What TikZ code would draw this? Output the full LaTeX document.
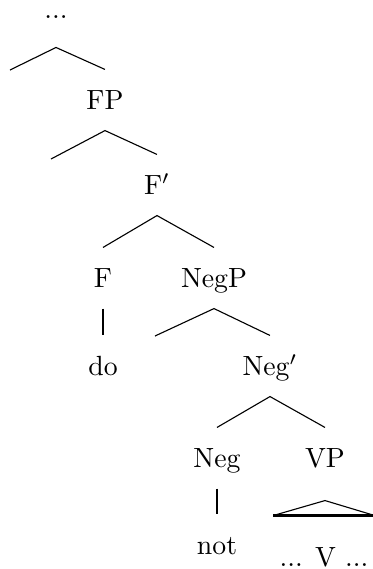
\documentclass[tikz,border=0pt]{standalone}
\usepackage{tikz}
\usetikzlibrary{calc}

\begin{document}
\begin{tikzpicture}[
    x=0.36pt, y=-0.36pt,
    cat/.style={inner sep=0pt, text height=6.8pt, text depth=0pt, minimum height=21.6pt},
    rootcat/.style={inner sep=0pt, text height=0pt, text depth=10.4pt, anchor=base},
    roof/.style={inner sep=0pt, text height=6.8pt, text depth=0pt, minimum height=29.5pt, minimum width=36pt},
    branch/.style={thin},
    unary/.style={thick}
]
    \useasboundingbox (0,0) rectangle (373,569);

    \node[rootcat] (root) at (56,18) {...};
    \node[cat] (fp) at (105,100) {FP};
    \node[cat] (fbar) at (157,185) {F$'$};
    \node[cat] (f) at (103,278) {F};
    \node[cat] (negp) at (214,278) {NegP};
    \node[cat] (do) at (103,366) {do};
    \node[cat] (negbar) at (270,366) {Neg$'$};
    \node[cat] (neg) at (217,458) {Neg};
    \node[cat] (vp) at (325,458) {VP};
    \node[cat] (not) at (217,545) {not};
    \node[roof] (vdots) at (324,557) {... V ...};

    % empty left daughters
    \coordinate (spec1) at (10,70);
    \coordinate (spec2) at (51,159);
    \coordinate (spec3) at (155,336);

    \draw[branch] (spec1) -- (root.south) -- (fp.north);
    \draw[branch] (spec2) -- (fp.south) -- (fbar.north);
    \draw[branch] (f.north) -- (fbar.south) -- (negp.north);
    \draw[branch] (spec3) -- (negp.south) -- (negbar.north);
    \draw[branch] (neg.north) -- (negbar.south) -- (vp.north);

    \draw[unary] (f.south) -- (do.north);
    \draw[unary] (neg.south) -- (not.north);

    % roof over VP
    \draw[branch] (vdots.north west) -- ($(vp.south)+(0,12)$) -- (vdots.north east);
    \draw[unary] (vdots.north west) -- (vdots.north east);
\end{tikzpicture}
\end{document}
